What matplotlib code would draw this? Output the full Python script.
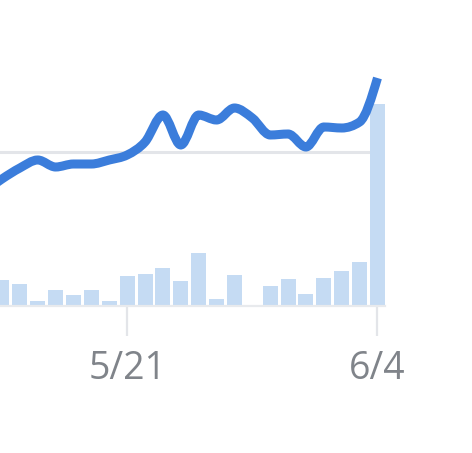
import numpy as np
import matplotlib
matplotlib.use("Agg")
import matplotlib.pyplot as plt
from matplotlib.path import Path
from matplotlib.patches import PathPatch

# daily series, 5/13 .. 6/4 (5/13 only feeds the line off the left edge)
DATES = ["5/13", "5/14", "5/15", "5/16", "5/17", "5/18", "5/19", "5/20",
         "5/21", "5/22", "5/23", "5/24", "5/25", "5/26", "5/27", "5/28",
         "5/29", "5/30", "5/31", "6/1", "6/2", "6/3", "6/4"]
PRICE = [114, 127, 138, 146, 139, 142, 142, 146,
         151, 164, 191, 161, 191, 186, 198, 188,
         171, 172, 159, 179, 178, 184, 228]
VOLUME = [0, 26, 22, 5, 16, 11, 16, 5,
          30, 32, 38, 25, 53, 7, 31, 0,
          20, 27, 12, 28, 35, 44, 202]
REF_LEVEL = 154
TICK_LABELS = ["5/21", "6/4"]

LINE_BLUE = "#3b7ddb"
BAR_BLUE = "#c5dbf3"
GRID_GRAY = "#e3e5e9"
TEXT_GRAY = "#80848a"


def monotone_path(xs, ys):
    """Bezier path through the points, d3 curveMonotoneX style."""
    xs = np.asarray(xs, float)
    ys = np.asarray(ys, float)
    n = len(xs)
    h = np.diff(xs)
    s = np.diff(ys) / h
    t = np.zeros(n)
    for i in range(1, n - 1):
        p = (s[i - 1] * h[i] + s[i] * h[i - 1]) / (h[i - 1] + h[i])
        t[i] = (np.sign(s[i - 1]) + np.sign(s[i])) * min(
            abs(s[i - 1]), abs(s[i]), 0.5 * abs(p))
    t[0] = (3 * s[0] - t[1]) / 2
    t[-1] = (3 * s[-1] - t[-2]) / 2

    verts = [(xs[0], ys[0])]
    codes = [Path.MOVETO]
    for i in range(n - 1):
        dx = h[i] / 3
        verts += [(xs[i] + dx, ys[i] + dx * t[i]),
                  (xs[i + 1] - dx, ys[i + 1] - dx * t[i + 1]),
                  (xs[i + 1], ys[i + 1])]
        codes += [Path.CURVE4] * 3
    return Path(verts, codes)


x = np.arange(len(DATES)) - 1  # 5/14 at 0

fig = plt.figure(figsize=(4.72, 4.53), dpi=100)
ax = fig.add_axes([0.0, (453 - 306) / 453, 385 / 472, 306 / 453])

ax.axhline(REF_LEVEL, color=GRID_GRAY, lw=2.2, zorder=1)
ax.bar(x, VOLUME, width=0.84, color=BAR_BLUE, zorder=2)

patch = PathPatch(monotone_path(x, PRICE), facecolor="none",
                  edgecolor=LINE_BLUE, lw=6.5, capstyle="butt",
                  joinstyle="round", zorder=3)
ax.add_patch(patch)

ax.set_xlim(-0.11, 21.42)
ax.set_ylim(0, 306)

for side in ["top", "right", "left"]:
    ax.spines[side].set_visible(False)
ax.spines["bottom"].set_color("#e8eaed")
ax.spines["bottom"].set_linewidth(1.6)

ax.set_yticks([])
ax.set_xticks([DATES.index(d) - 1 for d in TICK_LABELS])
ax.set_xticklabels(TICK_LABELS, fontsize=27, color=TEXT_GRAY,
                   family="Open Sans")
ax.tick_params(axis="x", length=21.5, width=1.6, color=GRID_GRAY, pad=10)

fig.savefig("out.png", dpi=100, facecolor="white")
